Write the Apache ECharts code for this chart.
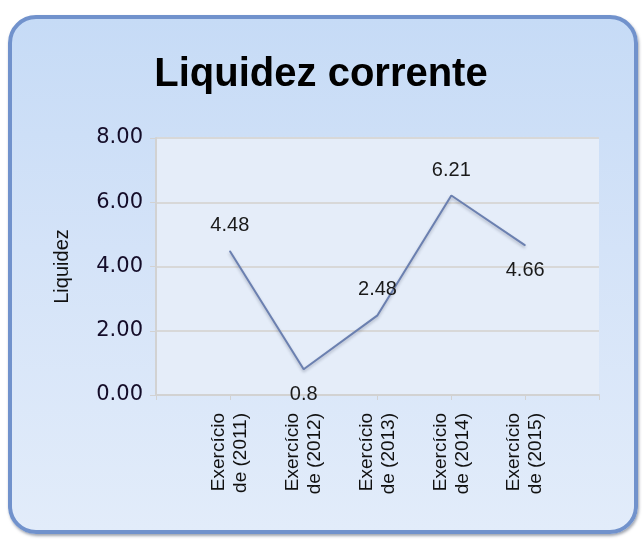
<!DOCTYPE html>
<html>
<head>
<meta charset="utf-8">
<script src="https://cdn.jsdelivr.net/npm/echarts@6/dist/echarts.min.js"></script>
<style>
  html, body { margin: 0; padding: 0; background: #ffffff; }
  #panel {
    position: absolute; left: 8px; top: 15px; width: 622px; height: 511px;
    border: 4px solid #7192cc; border-radius: 28px;
    background: linear-gradient(to bottom, #c6dbf6 0%, #d4e3f8 45%, #e2ecfa 100%);
    box-shadow: 1px 2px 3px rgba(80,90,110,0.55);
  }
  #chart { position: absolute; left: 0; top: 0; width: 642px; height: 539px; }
</style>
</head>
<body>
<div id="panel"></div>
<div id="chart"></div>
<script>
const titleText = 'Liquidez corrente';
const yAxisName = 'Liquidez';
const categories = ['Exercício\nde (2011)', 'Exercício\nde (2012)', 'Exercício\nde (2013)', 'Exercício\nde (2014)', 'Exercício\nde (2015)'];
const values = [4.48, 0.8, 2.48, 6.21, 4.66];
const valueLabels = ['4.48', '0.8', '2.48', '6.21', '4.66'];
const yTicks = [0, 2, 4, 6, 8];

const labelSide = ['top', 'bottom', 'top', 'top', 'bottom'];

const xData = [''].concat(categories, ['']);
const seriesData = [null].concat(values.map((v, i) => ({
  value: v,
  label: { position: labelSide[i], distance: 15, formatter: valueLabels[i] }
})), [null]);

const chart = echarts.init(document.getElementById('chart'), null, { renderer: 'canvas' });
chart.setOption({
  backgroundColor: 'transparent',
  animation: false,
  title: {
    text: titleText, left: 'center', top: 50,
    textStyle: { fontFamily: 'Liberation Sans', fontWeight: 'bold', fontSize: 40, color: '#000' }
  },
  grid: {
    left: 156, top: 138, right: 43, bottom: 144,
    show: true, backgroundColor: '#e5edf9', borderWidth: 0
  },
  xAxis: {
    type: 'category', data: xData, boundaryGap: false,
    axisLine: { show: true, lineStyle: { color: '#d2d2d2', width: 2 } },
    axisTick: { show: true, length: 5, lineStyle: { color: '#d2d2d2', width: 1 } },
    axisLabel: {
      rotate: 90, interval: 0, margin: 18,
      fontFamily: 'Liberation Sans', fontSize: 19, lineHeight: 22, color: '#111', align: 'right'
    },
    splitLine: { show: false }
  },
  yAxis: {
    type: 'value', min: yTicks[0], max: yTicks[yTicks.length - 1], interval: 2,
    name: yAxisName, nameLocation: 'middle', nameGap: 84, nameRotate: 90,
    nameTextStyle: { fontFamily: 'Liberation Sans', fontSize: 20, color: '#111' },
    axisLine: { show: true, lineStyle: { color: '#d2d2d2', width: 2 } },
    axisTick: { show: true, length: 6, lineStyle: { color: '#d2d2d2' } },
    axisLabel: {
      margin: 13, formatter: v => v.toFixed(2),
      fontFamily: 'DejaVu Sans', fontSize: 21, color: '#140c28'
    },
    splitLine: { show: true, lineStyle: { color: '#d8d8d8', width: 2 } }
  },
  series: [{
    type: 'line', data: seriesData, connectNulls: false,
    symbol: 'circle', symbolSize: 1, showSymbol: true,
    itemStyle: { color: '#6b80b0' },
    lineStyle: { color: '#6b80b0', width: 2, shadowColor: 'rgba(40,50,80,0.3)', shadowBlur: 3, shadowOffsetY: 2 },
    label: { show: true, fontFamily: 'Liberation Sans', fontSize: 20, color: '#1a1a1a' }
  }]
});
</script>
</body>
</html>
